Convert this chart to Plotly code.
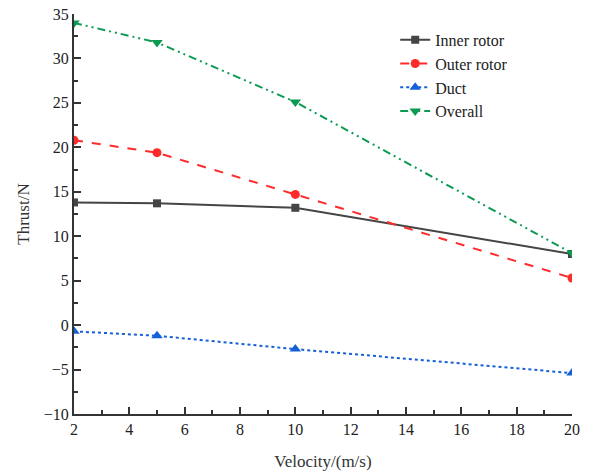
import plotly.graph_objects as go

velocity = [2, 5, 10, 20]
inner_rotor = [13.8, 13.7, 13.2, 8.0]
outer_rotor = [20.8, 19.4, 14.7, 5.3]
duct = [-0.7, -1.2, -2.7, -5.4]
overall = [34.0, 31.8, 25.1, 8.1]

y_ticks = [-10, -5, 0, 5, 10, 15, 20, 25, 30, 35]
x_ticks = [2, 4, 6, 8, 10, 12, 14, 16, 18, 20]

FONT = "Liberation Serif, Times New Roman, serif"

series = [
    ("Inner rotor", inner_rotor, "#454545", "solid", "square", 8),
    ("Outer rotor", outer_rotor, "#ff2a2a", "dash", "circle", 9),
    ("Duct", duct, "#1560d8", "dot", "triangle-up", 10),
    ("Overall", overall, "#0a9a52", "8px,4px,2px,4px,2px,4px", "triangle-down", 10),
]

fig = go.Figure()
for name, vals, color, dash, sym, size in series:
    fig.add_trace(go.Scatter(
        x=velocity, y=vals, name=name, mode="lines+markers",
        line=dict(color=color, dash=dash, width=2),
        marker=dict(symbol=sym, size=size, color=color),
    ))

axis_common = dict(
    showline=True, linecolor="#333333", linewidth=2, mirror=False,
    ticks="inside", ticklen=7, tickwidth=2, tickcolor="#333333",
    showgrid=False, zeroline=False, automargin=False,
    tickfont=dict(family=FONT, size=16, color="#222222"),
)

fig.update_xaxes(
    range=[2, 20], tickvals=x_ticks,
    minor=dict(ticks="inside", ticklen=4, tickwidth=1.5, tickcolor="#333333", dtick=1),
    title=dict(text="Velocity/(m/s)", font=dict(family=FONT, size=17, color="#333333"), standoff=18),
    **axis_common,
)
fig.update_yaxes(
    range=[-10, 35], tickvals=y_ticks,
    minor=dict(ticks="inside", ticklen=4, tickwidth=1.5, tickcolor="#333333", dtick=2.5),
    title=dict(text="Thrust/N", font=dict(family=FONT, size=17, color="#333333"), standoff=10),
    **axis_common,
)

fig.update_layout(
    width=593, height=473,
    margin=dict(l=74, r=21, t=14, b=59),
    plot_bgcolor="white", paper_bgcolor="white",
    legend=dict(
        x=0.645, y=0.978, xanchor="left", yanchor="top",
        font=dict(family=FONT, size=16, color="#222222"),
        bgcolor="rgba(0,0,0,0)", tracegroupgap=0,
    ),
)

fig.write_html("out.html")
